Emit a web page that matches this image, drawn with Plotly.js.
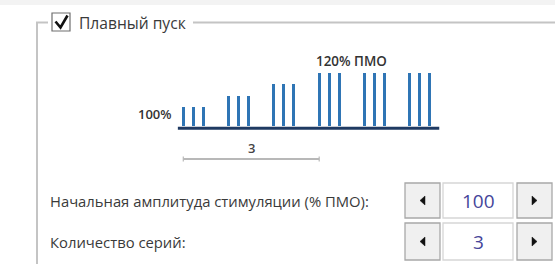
<!DOCTYPE html>
<html><head><meta charset="utf-8">
<script src="https://cdn.plot.ly/plotly-3.0.1.min.js"></script>
<style>html,body{margin:0;padding:0;background:#fff;overflow:hidden}</style>
</head><body>
<div id="chart" style="width:555px;height:264px"></div>
<script>
// ---- data ----
const seriesNumbers = [1, 2, 3, 4, 5, 6];
const seriesAmplitudes = [100, 106.7, 113.3, 120, 120, 120]; // % ПМО
const pulseOffsets = [0, 0.22, 0.44];   // pulses inside one series (series units)
const baselineLevel = 89;
const startLabel = "100%";
const peakLabel = "120% ПМО";
const scaleSeriesCount = 3;
const groupTitle = "Плавный пуск";
const fieldLabels = ["Начальная амплитуда стимуляции (% ПМО):", "Количество серий:"];
const fieldValues = ["100", "3"];

// ---- helpers for UI chrome (pixel -> paper) ----
const W = 555, H = 264;
const px = x => x / W;
const py = y => 1 - y / H;
const FONT = "Open Sans, Noto Sans, sans-serif";

// pulses
const xs = [], ys = [], bases = [];
seriesNumbers.forEach((s, i) => pulseOffsets.forEach(o => {
  xs.push(s + o);
  ys.push(seriesAmplitudes[i] - baselineLevel);
  bases.push(baselineLevel);
}));

const traces = [{
  type: 'bar', x: xs, y: ys, base: bases, width: 0.066,
  marker: {color: '#2f75b5', line: {width: 0}},
  hoverinfo: 'skip', showlegend: false
}];

const lastPulse = seriesNumbers[seriesNumbers.length - 1] + pulseOffsets[pulseOffsets.length - 1];
const shapes = [];
// top light band
shapes.push({type:'rect', xref:'paper', yref:'paper', x0:0, x1:1, y0:py(0), y1:py(5), fillcolor:'#f3f3f3', line:{width:0}, layer:'below'});
// group box lines
const boxCol = '#c4c4c4';
shapes.push({type:'line', xref:'paper', yref:'paper', x0:px(37), x1:px(37), y0:py(22.5), y1:py(264), line:{color:boxCol, width:2}});
shapes.push({type:'line', xref:'paper', yref:'paper', x0:px(36), x1:px(48), y0:py(22.5), y1:py(22.5), line:{color:boxCol, width:2}});
shapes.push({type:'line', xref:'paper', yref:'paper', x0:px(193), x1:px(555), y0:py(22.5), y1:py(22.5), line:{color:boxCol, width:2}});
// checkbox
shapes.push({type:'rect', xref:'paper', yref:'paper', x0:px(52), x1:px(70), y0:py(13), y1:py(31), fillcolor:'#ffffff', line:{color:'#6e6e6e', width:1.2}});
shapes.push({type:'path', xref:'paper', yref:'paper',
  path:`M${px(55.5)},${py(21.5)} L${px(60.5)},${py(27.5)} L${px(67.5)},${py(15.5)}`,
  line:{color:'#111111', width:2.6}});
// baseline
shapes.push({type:'line', xref:'x', yref:'paper', x0:seriesNumbers[0]-0.12, x1:lastPulse+0.21, y0:py(128.3), y1:py(128.3), line:{color:'#1f3a62', width:3}, layer:'above'});
// scale bar
const sbY = py(159);
shapes.push({type:'line', xref:'x', yref:'paper', x0:seriesNumbers[0], x1:seriesNumbers[0]+scaleSeriesCount, y0:sbY, y1:sbY, line:{color:'#b8b8b8', width:2}});
[seriesNumbers[0], seriesNumbers[0]+scaleSeriesCount].forEach(x => shapes.push({type:'line', xref:'x', yref:'paper', x0:x, x1:x, y0:py(156.5), y1:py(161.5), line:{color:'#b8b8b8', width:1.2}}));

// spinners
const rows = [[183, 218], [223, 260]];
rows.forEach(([t, b]) => {
  shapes.push({type:'rect', xref:'paper', yref:'paper', x0:px(405), x1:px(440), y0:py(t), y1:py(b), fillcolor:'#f0f0f0', line:{color:'#a8a8a8', width:1.3}});
  shapes.push({type:'rect', xref:'paper', yref:'paper', x0:px(443), x1:px(513), y0:py(t), y1:py(b), fillcolor:'#ffffff', line:{color:'#d6d6d6', width:1.3}});
  shapes.push({type:'rect', xref:'paper', yref:'paper', x0:px(517), x1:px(552), y0:py(t), y1:py(b), fillcolor:'#f0f0f0', line:{color:'#a8a8a8', width:1.3}});
  const cy = (t + b) / 2;
  shapes.push({type:'path', xref:'paper', yref:'paper', path:`M${px(425)},${py(cy-4.5)} L${px(420)},${py(cy)} L${px(425)},${py(cy+4.5)} Z`, fillcolor:'#111', line:{color:'#111', width:0.5}});
  shapes.push({type:'path', xref:'paper', yref:'paper', path:`M${px(532)},${py(cy-4.5)} L${px(537)},${py(cy)} L${px(532)},${py(cy+4.5)} Z`, fillcolor:'#111', line:{color:'#111', width:0.5}});
});

const annotations = [
  {text: groupTitle, xref:'paper', yref:'paper', x:px(77), y:py(23), xanchor:'left', yanchor:'middle', showarrow:false, font:{family:FONT, size:15.6, color:'#3a3a3a'}},
  {text: startLabel, xref:'x', yref:'paper', x:seriesNumbers[0]-0.2, y:py(114), xanchor:'right', yanchor:'middle', showarrow:false, font:{family:FONT, size:13, color:'#333', weight:600}},
  {text: peakLabel, xref:'x', yref:'paper', x:4.72, y:py(61), xanchor:'center', yanchor:'middle', showarrow:false, font:{family:FONT, size:13.4, color:'#333', weight:600}},
  {text: String(scaleSeriesCount), xref:'x', yref:'paper', x:seriesNumbers[0]+scaleSeriesCount/2, y:py(148), xanchor:'center', yanchor:'middle', showarrow:false, font:{family:FONT, size:13, color:'#444', weight:600}}
];
rows.forEach(([t, b], i) => {
  const cy = (t + b) / 2;
  annotations.push({text: fieldLabels[i], xref:'paper', yref:'paper', x:px(48), y:py(cy), xanchor:'left', yanchor:'middle', showarrow:false, font:{family:FONT, size:14.8, color:'#3a3a3a'}});
  annotations.push({text: fieldValues[i], xref:'paper', yref:'paper', x:px(478), y:py(cy), xanchor:'center', yanchor:'middle', showarrow:false, font:{family:FONT, size:19, color:'#45459a'}});
});

const layout = {
  width: W, height: H,
  margin: {l:0, r:0, t:0, b:0, pad:0},
  paper_bgcolor: '#ffffff', plot_bgcolor: 'rgba(0,0,0,0)',
  xaxis: {range: [-3.046, 9.205], visible: false, fixedrange: true},
  yaxis: {range: [8.77, 162.26], visible: false, fixedrange: true},
  shapes, annotations, showlegend: false, bargap: 0
};
Plotly.newPlot('chart', traces, layout, {staticPlot: true, displayModeBar: false});
</script>
</body></html>
